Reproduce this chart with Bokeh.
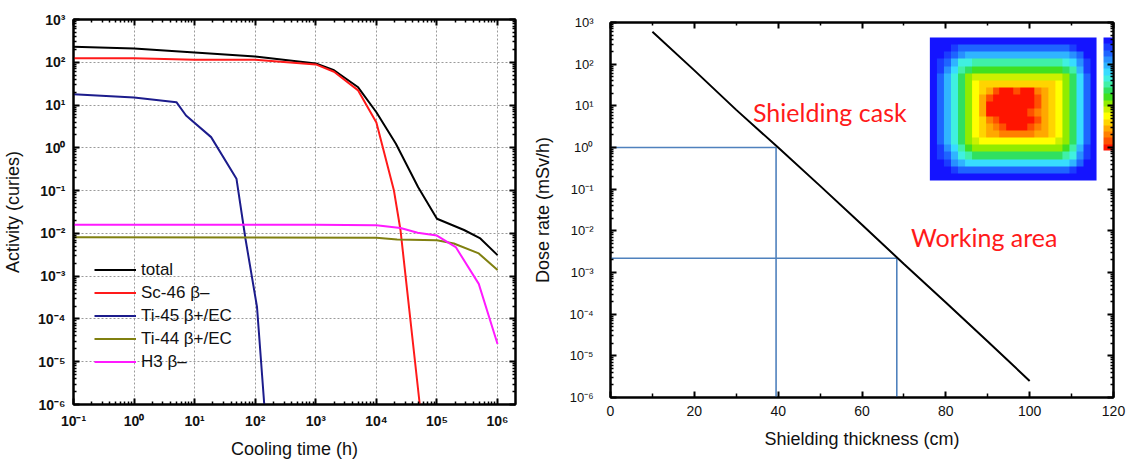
import numpy as np
from bokeh.plotting import figure
from bokeh.layouts import row, column
from bokeh.models import (FixedTicker, LogAxis, LinearAxis, CustomJSTickFormatter, Label,
                          Range1d, LinearColorMapper, LinearScale)
from bokeh.embed import file_html
from bokeh.resources import INLINE

# ---------------- Left panel: activity vs cooling time ----------------
TIME_TOTAL = [0.1, 1, 10, 100, 1000, 2000, 5000, 1e4, 2.1e4, 4.9e4, 1e5, 2.8e5, 5.2e5, 1e6]
ACT_TOTAL = [230, 210, 170, 137, 94, 65, 26, 6.8, 1.25, 0.12, 0.022, 0.012, 0.0076, 0.0031]

TIME_SC46 = [0.1, 1, 10, 100, 1000, 2000, 5000, 1e4, 1.95e4, 2.5e4, 5.2e4]
ACT_SC46 = [125, 125, 115, 115, 89, 60, 22, 3.9, 0.1, 0.012, 1e-6]

TIME_TI45 = [0.1, 1, 5, 7.2, 18.7, 49, 69, 107, 141]
ACT_TI45 = [18, 15, 11.7, 5.7, 1.78, 0.19, 0.0075, 1.9e-4, 1e-6]

TIME_TI44 = [0.1, 1e4, 2.2e4, 1e5, 1.9e5, 4.9e5, 1e6]
ACT_TI44 = [0.0081, 0.0079, 0.0072, 0.0069, 0.0058, 0.0034, 0.0014]

TIME_H3 = [0.1, 1000, 1e4, 2.5e4, 4.8e4, 1e5, 2.04e5, 4.9e5, 1e6]
ACT_H3 = [0.016, 0.016, 0.0155, 0.0133, 0.0104, 0.0089, 0.0048, 6.6e-4, 2.6e-5]

SERIES_NAMES = ["total", "Sc-46 β–", "Ti-45 β+/EC", "Ti-44 β+/EC", "H3 β–"]
X1_DECADES = [1e-1, 1e0, 1e1, 1e2, 1e3, 1e4, 1e5, 1e6]
Y_DECADES = [1e-6, 1e-5, 1e-4, 1e-3, 1e-2, 1e-1, 1e0, 1e1, 1e2, 1e3]

# ---------------- Right panel: dose rate vs shielding thickness ----------------
THICKNESS = [10, 20, 30, 40, 50, 60, 70, 80, 90, 100]
DOSE = [600, 71, 8.0, 1.0, 0.12, 0.014, 1.6e-3, 1.9e-4, 2.2e-5, 2.5e-6]
CASK_T, CASK_D = 39.5, 1.0
WORK_T, WORK_D = 68.3, 2.2e-3
X2_TICKS = [0, 20, 40, 60, 80, 100, 120]
X2_MINOR = [10, 30, 50, 70, 90, 110]

# inset dose map (levels 0 = low/blue ... 17 = high/red), rows top to bottom
HEAT_LEVELS = [
    [0, 0, 0, 0, 0, 0, 0, 0, 0, 0, 0, 0, 0, 0, 0, 0, 0, 0, 0, 0, 0, 0, 0, 0],
    [0, 0, 0, 1, 2, 2, 2, 2, 2, 2, 2, 2, 2, 2, 2, 2, 2, 2, 2, 2, 1, 0, 0, 0],
    [0, 0, 1, 2, 3, 4, 4, 4, 4, 4, 4, 4, 4, 4, 4, 4, 4, 4, 4, 4, 3, 2, 0, 0],
    [0, 1, 2, 4, 6, 6, 7, 7, 7, 7, 7, 7, 7, 7, 7, 7, 7, 7, 7, 6, 5, 3, 1, 0],
    [0, 1, 3, 5, 7, 8, 9, 9, 9, 9, 9, 9, 9, 9, 9, 9, 9, 9, 9, 8, 7, 4, 1, 0],
    [0, 2, 4, 6, 8, 10, 11, 11, 11, 11, 11, 11, 11, 11, 11, 11, 11, 11, 11, 10, 8, 5, 2, 0],
    [0, 2, 4, 6, 8, 10, 12, 13, 13, 13, 13, 13, 13, 13, 13, 13, 13, 13, 12, 10, 8, 5, 2, 0],
    [0, 2, 4, 6, 8, 10, 12, 13, 14, 16, 17, 17, 16, 17, 17, 15, 14, 13, 12, 10, 8, 5, 2, 0],
    [0, 2, 4, 6, 8, 10, 12, 14, 16, 17, 17, 17, 17, 17, 17, 16, 14, 13, 12, 10, 8, 5, 2, 0],
    [0, 2, 4, 6, 8, 10, 12, 14, 17, 17, 17, 17, 17, 17, 17, 16, 14, 13, 12, 10, 8, 5, 2, 0],
    [0, 2, 4, 6, 8, 10, 12, 14, 17, 17, 17, 17, 17, 17, 16, 15, 14, 13, 12, 10, 8, 5, 2, 0],
    [0, 2, 4, 6, 8, 10, 12, 13, 15, 16, 17, 17, 17, 17, 17, 16, 14, 13, 12, 10, 8, 5, 2, 0],
    [0, 2, 4, 6, 8, 10, 12, 13, 14, 15, 16, 17, 17, 17, 16, 15, 14, 13, 12, 10, 8, 5, 2, 0],
    [0, 2, 4, 6, 8, 10, 12, 13, 14, 14, 15, 15, 15, 15, 15, 14, 14, 13, 12, 10, 8, 5, 2, 0],
    [0, 2, 4, 6, 8, 10, 11, 12, 12, 12, 12, 12, 12, 12, 12, 12, 12, 12, 11, 10, 8, 5, 2, 0],
    [0, 1, 3, 5, 7, 9, 10, 10, 10, 10, 10, 10, 10, 10, 10, 10, 10, 10, 10, 9, 7, 4, 1, 0],
    [0, 1, 2, 4, 6, 7, 8, 8, 8, 8, 8, 8, 8, 8, 8, 8, 8, 8, 8, 7, 6, 3, 1, 0],
    [0, 0, 1, 3, 4, 5, 5, 5, 5, 5, 5, 5, 5, 5, 5, 5, 5, 5, 5, 5, 4, 2, 0, 0],
    [0, 0, 0, 1, 2, 2, 2, 2, 2, 2, 2, 2, 2, 2, 2, 2, 2, 2, 2, 2, 1, 0, 0, 0],
    [0, 0, 0, 0, 0, 0, 0, 0, 0, 0, 0, 0, 0, 0, 0, 0, 0, 0, 0, 0, 0, 0, 0, 0],
]
COLORBAR_LEVELS = list(range(18))  # top to bottom
HEAT_PALETTE = ["#1414ff", "#1a3cff", "#1e64ff", "#2890ff", "#30b4ff", "#38dcff",
                "#40f0e0", "#40f0a8", "#30e060", "#40e020", "#90ec00", "#ccf000",
                "#ffff00", "#ffd400", "#ffa800", "#ff8000", "#ff5000", "#ff1400"]

SUP = "const s={'-':'\u207b','0':'\u2070','1':'\u00b9','2':'\u00b2','3':'\u00b3','4':'\u2074','5':'\u2075','6':'\u2076','7':'\u2077','8':'\u2078','9':'\u2079'};"
POW_FMT = SUP + "const e=Math.round(Math.log10(tick));return '10'+String(e).split('').map(c=>s[c]).join('');"
BLANK_FMT = "return '';"


def minor_of(decades):
    return [m * d for d in decades for m in range(2, 10)]


def style_axis(ax, font_size, bold, tin=6, tout=0, minor_in=3):
    ax.axis_line_width = 2
    ax.axis_line_color = "black"
    ax.major_tick_line_width = 2
    ax.major_tick_in = tin
    ax.major_tick_out = tout
    ax.minor_tick_in = minor_in
    ax.minor_tick_out = 0
    ax.minor_tick_line_width = 1.5
    ax.major_label_text_font = "Liberation Sans"
    ax.major_label_text_font_size = font_size
    ax.major_label_text_font_style = "bold" if bold else "normal"
    ax.major_label_text_color = "#111111"
    ax.axis_label_text_font = "Liberation Sans"
    ax.axis_label_text_font_size = "18px"
    ax.axis_label_text_font_style = "normal"
    ax.axis_label_text_color = "#111111"


def mirror(p, kind, side, ticker):
    ax = kind(ticker=ticker, formatter=CustomJSTickFormatter(code=BLANK_FMT))
    style_axis(ax, "1px", False)
    ax.major_label_standoff = 0
    p.add_layout(ax, side)


# ---------------- Left figure ----------------
p1 = figure(width=530, height=462, x_axis_type="log", y_axis_type="log",
            x_range=Range1d(0.1, 1.98e6), y_range=Range1d(1e-6, 1e3),
            output_backend="svg", toolbar_location=None,
            min_border_left=72, min_border_right=15, min_border_top=19, min_border_bottom=58)
p1.outline_line_color = "black"
p1.outline_line_width = 2

xt1 = FixedTicker(ticks=X1_DECADES, minor_ticks=minor_of(X1_DECADES))
yt1 = FixedTicker(ticks=Y_DECADES, minor_ticks=minor_of(Y_DECADES))
p1.xaxis.ticker = xt1
p1.yaxis.ticker = yt1
p1.xgrid.ticker = xt1
p1.ygrid.ticker = yt1
for g in (p1.xgrid, p1.ygrid):
    g.grid_line_color = "#9a9a9a"
    g.grid_line_dash = "2 2"
    g.grid_line_width = 1
p1.xaxis.formatter = CustomJSTickFormatter(code=POW_FMT)
p1.yaxis.formatter = CustomJSTickFormatter(code=POW_FMT)
style_axis(p1.xaxis[0], "14px", True)
style_axis(p1.yaxis[0], "14px", True)
p1.xaxis.axis_label = "Cooling time (h)"
p1.yaxis.axis_label = "Activity (curies)"
p1.xaxis.major_label_standoff = 8
p1.yaxis.major_label_standoff = 8
p1.xaxis.axis_label_standoff = 7
p1.yaxis.axis_label_standoff = 12
mirror(p1, LogAxis, "above", xt1)
mirror(p1, LogAxis, "right", yt1)

p1.line(TIME_TOTAL, ACT_TOTAL, color="black", line_width=2, legend_label=SERIES_NAMES[0])
p1.line(TIME_SC46, ACT_SC46, color="#ff1a1a", line_width=2, legend_label=SERIES_NAMES[1])
p1.line(TIME_TI45, ACT_TI45, color="#1c1c8c", line_width=2, legend_label=SERIES_NAMES[2])
p1.line(TIME_TI44, ACT_TI44, color="#808010", line_width=2, legend_label=SERIES_NAMES[3])
p1.line(TIME_H3, ACT_H3, color="#ff1aff", line_width=2, legend_label=SERIES_NAMES[4])

lg = p1.legend[0]
lg.location = (21, 31)
lg.background_fill_alpha = 0
lg.border_line_alpha = 0
lg.padding = 0
lg.margin = 0
lg.spacing = 0
lg.glyph_width = 42
lg.glyph_height = 23
lg.label_height = 23
lg.label_standoff = 5
lg.label_text_font = "Liberation Sans"
lg.label_text_font_size = "17px"
lg.label_text_color = "#111111"

# ---------------- Right figure ----------------
p2 = figure(width=604, height=462, y_axis_type="log",
            x_range=Range1d(0, 120), y_range=Range1d(1e-6, 1e3),
            output_backend="svg", toolbar_location=None,
            min_border_left=79, min_border_right=21, min_border_top=22, min_border_bottom=65)
p2.outline_line_color = "black"
p2.outline_line_width = 2
p2.grid.visible = False

xt2 = FixedTicker(ticks=X2_TICKS, minor_ticks=X2_MINOR)
yt2 = FixedTicker(ticks=Y_DECADES, minor_ticks=minor_of(Y_DECADES))
p2.xaxis.ticker = xt2
p2.yaxis.ticker = yt2
p2.yaxis.formatter = CustomJSTickFormatter(code=POW_FMT)
style_axis(p2.xaxis[0], "14px", False, tin=6, minor_in=4)
style_axis(p2.yaxis[0], "13px", False)
p2.xaxis.axis_label = "Shielding thickness (cm)"
p2.yaxis.axis_label = "Dose rate (mSv/h)"
p2.xaxis.major_label_standoff = 8
p2.yaxis.major_label_standoff = 17
p2.xaxis.axis_label_standoff = 10
p2.yaxis.axis_label_standoff = 13
mirror(p2, LinearAxis, "above", xt2)
mirror(p2, LogAxis, "right", yt2)

y_min = p2.y_range.start
p2.line([0, CASK_T, CASK_T], [CASK_D, CASK_D, y_min], color="#4f81bd", line_width=1.6)
p2.line([0, WORK_T, WORK_T], [WORK_D, WORK_D, y_min], color="#4f81bd", line_width=1.6)
p2.line(THICKNESS, DOSE, color="black", line_width=2)

p2.add_layout(Label(x=34.0, y=3.08, text="Shielding cask", text_color="#ff1a1a",
                    text_font="Lato", text_font_size="25px"))
p2.add_layout(Label(x=71.7, y=3.1e-3, text="Working area", text_color="#ff1a1a",
                    text_font="Lato", text_font_size="25px"))

# inset (placed in frame pixel units via extra linear ranges)
p2.extra_x_ranges = {"ix": Range1d(0, 504)}
p2.extra_y_ranges = {"iy": Range1d(0, 375)}
p2.extra_x_scales = {"ix": LinearScale()}
p2.extra_y_scales = {"iy": LinearScale()}
mapper = LinearColorMapper(palette=HEAT_PALETTE, low=-0.5, high=17.5)
heat = np.flipud(np.array(HEAT_LEVELS, dtype=float))
p2.image(image=[heat], x=320, y=217, dw=167, dh=143, color_mapper=mapper,
         x_range_name="ix", y_range_name="iy")
cbar = np.array(COLORBAR_LEVELS, dtype=float)[::-1].reshape(-1, 1)
p2.image(image=[cbar], x=494, y=247, dw=10, dh=113, color_mapper=mapper,
         x_range_name="ix", y_range_name="iy")

layout = row(column(p1), column(p2))
open("out.html", "w").write(file_html(layout, INLINE))
